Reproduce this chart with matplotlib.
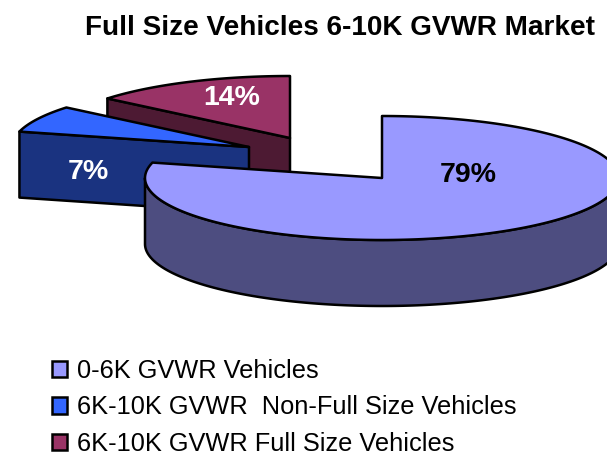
import numpy as np
import matplotlib
matplotlib.use('Agg')
import matplotlib.pyplot as plt
from matplotlib.patches import Patch, Polygon

plt.rcParams['font.family'] = ['Liberation Sans', 'DejaVu Sans']

title = 'Full Size Vehicles 6-10K GVWR Market'
labels = ['0-6K GVWR Vehicles', '6K-10K GVWR  Non-Full Size Vehicles', '6K-10K GVWR Full Size Vehicles']
shares = [79, 7, 14]

top_colors = ['#9999FF', '#3366FF', '#993366']
side_colors = ['#4D4D80', '#1A3380', '#4D1A33']
text_colors = ['black', 'white', 'white']

# apex of each slice (pixels), the small ones are pulled out of the pie
apex = [(382, 178), (249, 147), (290, 138)]
label_pos = [(468, 175), (88, 172), (232, 98)]
rx, ry = 237, 62
depth = 66
edge = dict(edgecolor='black', linewidth=1.8, joinstyle='round')


def rim(center, a0, a1):
    # points on the tilted ellipse, angles clockwise from 12 o'clock
    t = np.radians(np.linspace(a0, a1, 200))
    return np.column_stack((center[0] + rx * np.sin(t), center[1] - ry * np.cos(t)))


fig = plt.figure(figsize=(6.07, 4.55), dpi=100)
ax = fig.add_axes([0, 0, 1, 1])
ax.set_xlim(0, 607)
ax.set_ylim(455, 0)
ax.axis('off')

angles = np.cumsum([0] + shares) * 3.6
start = angles[:-1]
stop = angles[1:]

# draw back to front
for i in [2, 1, 0]:
    c = apex[i]
    outer = rim(c, start[i], stop[i])
    if i == 0:
        # outer wall only where the rim faces the viewer
        front = rim(c, 90, 270)
        wall = np.vstack((front, (front + [0, depth])[::-1]))
    else:
        # cut face from the apex to the first rim point
        p = outer[0]
        wall = np.array([c, p, (p[0], p[1] + depth), (c[0], c[1] + depth)])
    ax.add_patch(Polygon(wall, closed=True, facecolor=side_colors[i], **edge))
    ax.add_patch(Polygon(np.vstack(([c], outer)), closed=True, facecolor=top_colors[i], **edge))
    ax.text(label_pos[i][0], label_pos[i][1], f'{shares[i]}%', color=text_colors[i], fontsize=20.5,
            fontweight='bold', ha='center', va='center')

ax.text(340, 28, title, fontsize=20.1, fontweight='bold', ha='center', va='center')

handles = [Patch(facecolor=col, edgecolor='black', linewidth=1.8) for col in top_colors]
ax.legend(handles, labels, loc='upper left', bbox_to_anchor=(52 / 607, 1 - 359 / 455), frameon=False,
          fontsize=18.25, handlelength=0.6, handleheight=0.6, handletextpad=0.4,
          labelspacing=0.49, borderpad=0, borderaxespad=0)

fig.savefig('out.png', dpi=100)
